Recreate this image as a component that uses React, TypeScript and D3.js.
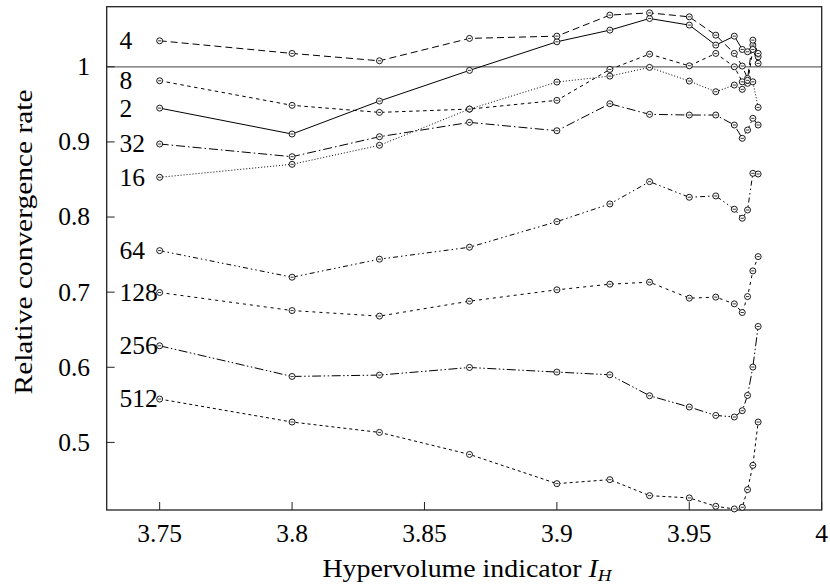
import React from "react";
import * as d3 from "d3";

const xs = [3.75, 3.8, 3.833, 3.867, 3.9, 3.92, 3.935, 3.95, 3.96, 3.967, 3.97, 3.972, 3.974, 3.976];

const s2 = [0.945, 0.9105, 0.9544, 0.9952, 1.0333, 1.0488, 1.0643, 1.0555, 1.0289, 1.0408, 1.0231, 1.02, 1.0289, 1.0133];
const s4 = [1.0346, 1.0178, 1.008, 1.0378, 1.0408, 1.0688, 1.0718, 1.0665, 1.0421, 1.0178, 1.001, 0.9845, 1.0355, 1.0178];
const s8 = [0.9814, 0.9487, 0.9393, 0.9437, 0.9553, 0.9965, 1.0169, 1.0013, 1.0178, 1.0, 0.98, 0.978, 1.0231, 1.0045];
const s16 = [0.8529, 0.8702, 0.8955, 0.9437, 0.9797, 0.9876, 0.9992, 0.981, 0.9668, 0.9757, 0.97, 0.982, 0.98, 0.946];
const s32 = [0.8972, 0.8803, 0.9069, 0.926, 0.9149, 0.9508, 0.9367, 0.9358, 0.9358, 0.9225, 0.9048, 0.9158, 0.9314, 0.9225];
const s64 = [0.7553, 0.7199, 0.7439, 0.7598, 0.7939, 0.8174, 0.8471, 0.8263, 0.8281, 0.8104, 0.7984, 0.8094, 0.8582, 0.8573];
const s128 = [0.6995, 0.6755, 0.6681, 0.688, 0.7031, 0.7106, 0.7133, 0.692, 0.6934, 0.6844, 0.6729, 0.6941, 0.7283, 0.7473];
const s256 = [0.6286, 0.5878, 0.5896, 0.5997, 0.5936, 0.59, 0.5621, 0.5471, 0.5359, 0.5338, 0.5422, 0.5625, 0.6003, 0.6543];
const s512 = [0.5577, 0.5271, 0.5133, 0.484, 0.4451, 0.4504, 0.4291, 0.4261, 0.4149, 0.4114, 0.4136, 0.4371, 0.4694, 0.5271];

const seriesNames = ["2", "4", "8", "16", "32", "64", "128", "256", "512"];
const seriesValues = [s2, s4, s8, s16, s32, s64, s128, s256, s512];
const dashes = ["", "7 4", "3.5 3.5", "1 2", "9 3 1.5 3", "5 3 1.5 3 1.5 3", "3 4", "9 2.5 1.5 2.5 1.5 2.5", "3 3"];

const xTicks = [3.75, 3.8, 3.85, 3.9, 3.95, 4];
const xTickLabels = ["3.75", "3.8", "3.85", "3.9", "3.95", "4"];
const yTicks = [0.5, 0.6, 0.7, 0.8, 0.9, 1];
const yTickLabels = ["0.5", "0.6", "0.7", "0.8", "0.9", "1"];

const W = 830;
const H = 584;
const left = 106.7;
const right = 821.7;
const top = 6.7;
const bottom = 510;
const font = '"Liberation Serif", "DejaVu Serif", "Times New Roman", serif';
const ts: React.CSSProperties = { fontFamily: font, fontSize: "25.5px" };
const ls: React.CSSProperties = { fontFamily: font, fontSize: "25px" };

export default function App() {
  const x = d3.scaleLinear().domain([3.73, 4.0]).range([left, right]);
  const y = d3.scaleLinear().domain([0.41, 1.08]).range([bottom, top]);
  const line = d3
    .line<[number, number]>()
    .x((d) => x(d[0]))
    .y((d) => y(d[1]));

  return (
    <svg
      width={W}
      height={H}
      style={{ position: "absolute", left: 0, top: 0, background: "#fff", fontFamily: font }}
    >
      <rect x={0} y={0} width={W} height={H} fill="#fff" />
      <line x1={left} x2={right} y1={y(1)} y2={y(1)} stroke="#666" strokeWidth={1.3} />
      <rect x={left} y={top} width={right - left} height={bottom - top} fill="none" stroke="#222" strokeWidth={1.3} />
      {xTicks.map((t, i) => (
        <g key={"xt" + i}>
          <line x1={x(t)} x2={x(t)} y1={bottom} y2={bottom - 8} stroke="#222" strokeWidth={1} />
          <text x={x(t)} y={542} textAnchor="middle" style={ts} fill="#000">
            {xTickLabels[i]}
          </text>
        </g>
      ))}
      {yTicks.map((t, i) => (
        <g key={"yt" + i}>
          <line x1={left} x2={left + 8} y1={y(t)} y2={y(t)} stroke="#222" strokeWidth={1} />
          <text x={90} y={y(t)} dy="0.33em" textAnchor="end" style={ts} fill="#000">
            {yTickLabels[i]}
          </text>
        </g>
      ))}
      {seriesValues.map((vals, si) => {
        const pts: [number, number][] = vals.map((v, i) => [xs[i], v]);
        return (
          <g key={"s" + si}>
            <path
              d={line(pts) || ""}
              fill="none"
              stroke="#000"
              strokeWidth={1}
              strokeDasharray={dashes[si] || undefined}
            />
            {pts.map((p, i) => (
              <g key={i}>
                <circle cx={x(p[0])} cy={y(p[1])} r={3} fill="#fff" stroke="#000" strokeWidth={0.9} />
                <line
                  x1={x(p[0]) - 1.6}
                  x2={x(p[0]) + 1.6}
                  y1={y(p[1])}
                  y2={y(p[1])}
                  stroke="#000"
                  strokeWidth={0.8}
                />
              </g>
            ))}
            <text x={119.5} y={y(vals[0])} dy="0.33em" style={ts} fill="#000">
              {seriesNames[si]}
            </text>
          </g>
        );
      })}
      <text
        transform={`translate(24, 242) rotate(-90)`}
        textAnchor="middle"
        style={ls}
        fill="#000"
        dy="0.33em"
        textLength={305}
        lengthAdjust="spacingAndGlyphs"
      >
        Relative convergence rate
      </text>
      <text
        x={467}
        y={577}
        textAnchor="middle"
        style={ls}
        fill="#000"
        textLength={289}
        lengthAdjust="spacingAndGlyphs"
      >
        Hypervolume indicator <tspan fontStyle="italic">I</tspan>
        <tspan fontStyle="italic" style={{ fontSize: "17px" }} dy={4}>H</tspan>
      </text>
    </svg>
  );
}
